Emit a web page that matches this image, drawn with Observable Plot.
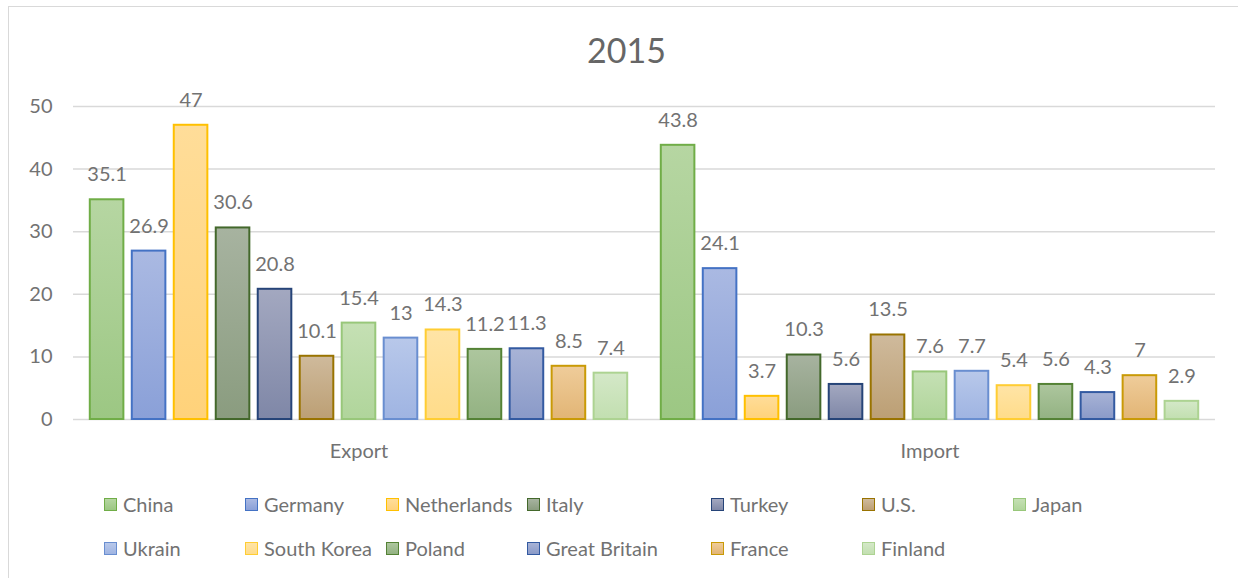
<!DOCTYPE html>
<html>
<head>
<meta charset="utf-8">
<script src="https://cdn.jsdelivr.net/npm/d3@7"></script>
<script src="https://cdn.jsdelivr.net/npm/@observablehq/plot@0.6"></script>
<style>
  html, body { margin: 0; padding: 0; background: #fff; }
  #wrap { position: relative; width: 1238px; height: 578px; overflow: hidden; font-family: Lato, "Open Sans", sans-serif; }
  #border { position: absolute; left: 8px; top: 6px; width: 1250px; height: 600px; border: 1.5px solid #d9d9d9; box-sizing: border-box; }
  #title { position: absolute; left: 0; width: 1253px; top: 28px; text-align: center; font-size: 34px; color: #666; line-height: 44px; }
  #chart { position: absolute; left: 0; top: 0; }
  .leg { position: absolute; font-size: 20px; color: #727272; line-height: 24px; white-space: nowrap; display: flex; align-items: center; }
  .leg .sw { width: 11px; height: 11px; border: 1.5px solid; margin-right: 6px; }
</style>
</head>
<body>
<div id="wrap">
  <div id="border"></div>
  <div id="title">2015</div>
  <div id="chart"></div>
</div>
<script>
// ---- data ----
const countries = ["China", "Germany", "Netherlands", "Italy", "Turkey", "U.S.", "Japan",
                   "Ukrain", "South Korea", "Poland", "Great Britain", "France", "Finland"];
const flows = ["Export", "Import"];
const exportValues = [35.1, 26.9, 47, 30.6, 20.8, 10.1, 15.4, 13, 14.3, 11.2, 11.3, 8.5, 7.4];
const importValues = [43.8, 24.1, 3.7, 10.3, 5.6, 13.5, 7.6, 7.7, 5.4, 5.6, 4.3, 7, 2.9];
const yTicks = [0, 10, 20, 30, 40, 50];

// ---- styles ----
const strokeColors = ["#70ad47", "#4472c4", "#ffc000", "#43682b", "#264478", "#997300", "#98c77a",
                      "#698ed0", "#ffcd33", "#548235", "#335aa1", "#c99a06", "#add392"];
const gradTop = ["#b6d6a2", "#aab9e2", "#ffdd99", "#a7b3a0", "#a3a8c0", "#cfba9c", "#c5e0b4",
                 "#b8c8ea", "#ffe4a6", "#adc69e", "#a8b3d6", "#efcc9a", "#d4e8c8"];
const gradBottom = ["#9cc783", "#8aa0d8", "#ffd27a", "#8a9c7f", "#7f87a7", "#bc9f74", "#b0d59b",
                    "#9fb4e2", "#ffdc8a", "#93b282", "#8a9ac8", "#e2b575", "#c2dfb0"];
// legend layout (left px of each column, rows)
const legendCols = [104, 245, 386, 527, 711, 862, 1013];
const legendRows = [504, 548];

const table = [];
flows.forEach((f, fi) => {
  const vals = fi === 0 ? exportValues : importValues;
  countries.forEach((c, i) => table.push({flow: f, country: c, value: vals[i], idx: i}));
});

const gradId = i => `grad${i}`;

const plot = Plot.plot({
  width: 1238,
  height: 480,
  marginTop: 106,
  marginBottom: 61,
  marginLeft: 73,
  marginRight: 23,
  style: {fontFamily: "Lato, 'Open Sans', sans-serif", fontSize: "20px", color: "#727272", background: "transparent"},
  fx: {domain: flows, padding: 0, round: false, label: null, tickSize: 0, tickPadding: 24, axis: "bottom"},
  x: {domain: countries, paddingInner: 0.2, paddingOuter: 0.4, round: false, axis: null},
  y: {domain: [0, 50], ticks: yTicks, tickSize: 0, tickPadding: 21, label: null, tickFormat: d3.format("d")},
  facet: {data: table, x: "flow"},
  marks: [
    Plot.ruleY(yTicks, {stroke: "#d9d9d9", strokeWidth: 1.5}),
    Plot.barY(table, {
      x: "country", y: "value",
      fill: d => `url(#${gradId(d.idx)})`,
      stroke: d => strokeColors[d.idx],
      strokeWidth: 2
    }),
    Plot.text(table, {
      x: "country", y: "value",
      text: d => String(d.value),
      dy: -25,
      fill: "#727272",
      fontSize: 20
    })
  ]
});

// gradients
const defs = d3.select(plot).insert("defs", ":first-child");
countries.forEach((c, i) => {
  const g = defs.append("linearGradient").attr("id", gradId(i))
    .attr("x1", 0).attr("y1", 0).attr("x2", 0).attr("y2", 1);
  g.append("stop").attr("offset", "0%").attr("stop-color", gradTop[i]);
  g.append("stop").attr("offset", "100%").attr("stop-color", gradBottom[i]);
});
document.getElementById("chart").appendChild(plot);

// legend
const wrap = document.getElementById("wrap");
countries.forEach((c, i) => {
  const row = i < 7 ? 0 : 1;
  const col = i < 7 ? i : i - 7;
  const item = document.createElement("div");
  item.className = "leg";
  item.style.left = legendCols[col] + "px";
  item.style.top = (legendRows[row] - 12) + "px";
  const sw = document.createElement("div");
  sw.className = "sw";
  sw.style.borderColor = strokeColors[i];
  sw.style.background = `linear-gradient(${gradTop[i]}, ${gradBottom[i]})`;
  const label = document.createElement("span");
  label.textContent = c;
  item.appendChild(sw);
  item.appendChild(label);
  wrap.appendChild(item);
});
</script>
</body>
</html>
